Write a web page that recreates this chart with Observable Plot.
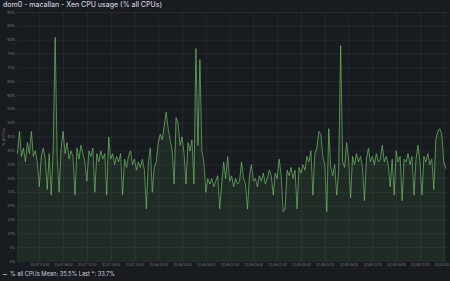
<!DOCTYPE html>
<html><head><meta charset="utf-8">
<script src="https://cdn.jsdelivr.net/npm/d3@7"></script>
<script src="https://cdn.jsdelivr.net/npm/@observablehq/plot@0.6"></script>
<style>
html,body{margin:0;padding:0;background:#181b1f;width:450px;height:281px;overflow:hidden;font-family:Inter,sans-serif;}
#title{position:absolute;left:3px;top:0;font-size:7px;line-height:10px;color:#ccccdc;white-space:nowrap;font-weight:500}
#chart{position:absolute;left:0;top:9px}
#legend{position:absolute;left:3px;top:269px;font-size:5.7px;line-height:10px;color:#ccccdc;white-space:nowrap}
#legend .sw{display:inline-block;width:4px;height:1.5px;background:#73BF69;vertical-align:middle;margin-right:3px}
</style></head>
<body>
<div id="title">dom0 - macallan - Xen CPU usage (% all CPUs)</div>
<div id="chart"></div>
<div id="legend"><span class="sw"></span>% all CPUs Mean: 35.5% Last *: 33.7%</div>
<script>
const seriesName = "% all CPUs";
const startTime = "2023-02-07T00:15:00Z";
const endTime = "2023-02-10T00:43:00Z";
const stepMinutes = 20;
const cpu = [
39,47,38,41,36,43,39,47,38,40,
36,27,38,41,37,26,39,24,40,81,
38,25,41,47,39,43,37,40,38,24,
41,37,42,39,36,29,40,38,41,25,
39,36,40,37,39,24,45,37,39,35,
38,36,39,24,37,34,38,40,35,37,
33,36,34,37,33,19,36,41,25,34,
36,43,46,44,49,54,48,44,40,28,
52,50,42,45,39,28,43,40,44,28,
77,42,73,40,36,25,30,28,30,27,
29,31,19,28,36,30,38,29,31,27,
30,28,29,36,30,28,19,31,35,29,
30,27,31,29,32,28,30,33,31,24,
32,30,37,31,18,19,33,31,34,30,
33,19,34,32,35,33,38,36,40,24,
39,41,47,46,38,35,18,48,34,31,
35,24,33,78,36,34,43,37,23,38,
35,39,36,38,34,22,37,41,36,38,
35,39,36,37,42,36,38,35,27,37,
24,40,36,38,22,37,36,39,35,38,
24,37,42,36,24,38,36,39,35,37,
26,44,47,48,46,36,33.7
];
const yTicks = [0,5,10,15,20,25,30,35,40,45,50,55,60,65,70,75,80,85,90];
const xTickLabels = [
"2023-02-07T04:00:00Z","2023-02-07T08:00:00Z","2023-02-07T12:00:00Z","2023-02-07T16:00:00Z","2023-02-07T20:00:00Z",
"2023-02-08T00:00:00Z","2023-02-08T04:00:00Z","2023-02-08T08:00:00Z","2023-02-08T12:00:00Z","2023-02-08T16:00:00Z","2023-02-08T20:00:00Z",
"2023-02-09T00:00:00Z","2023-02-09T04:00:00Z","2023-02-09T08:00:00Z","2023-02-09T12:00:00Z","2023-02-09T16:00:00Z","2023-02-09T20:00:00Z",
"2023-02-10T00:00:00Z"
];
const t0 = new Date(startTime).getTime();
const data = cpu.map((v,i)=>({t:new Date(t0 + i*stepMinutes*60000), v}));
const xTicks = xTickLabels.map(s=>new Date(s));
const fmt = d3.utcFormat("%m/%d %H:%M");
const chart = Plot.plot({
  width:450, height:260,
  marginLeft:17, marginRight:2, marginTop:3, marginBottom:8,
  style:{background:"transparent", color:"rgba(204,204,220,0.6)", fontFamily:"Inter, sans-serif"},
  x:{type:"utc", domain:[new Date(startTime), new Date(endTime)]},
  y:{domain:[0,90]},
  marks:[
    Plot.gridX(xTicks,{stroke:"#ccccdc", strokeOpacity:0.07}),
    Plot.gridY(yTicks,{stroke:"#ccccdc", strokeOpacity:0.07}),
    Plot.areaY(data,{x:"t", y:"v", fill:"#73BF69", fillOpacity:0.1}),
    Plot.lineY(data,{x:"t", y:"v", stroke:"#73BF69", strokeWidth:0.8, strokeOpacity:0.85}),
    Plot.axisX(xTicks,{tickSize:0, tickPadding:2, tickFormat:fmt, label:null, fontSize:3}),
    Plot.axisY(yTicks,{tickSize:0, tickPadding:2.5, tickFormat:d=>d+"%", label:seriesName, labelAnchor:"center", labelOffset:15, labelArrow:"none", fontSize:3.4})
  ]
});
document.getElementById("chart").appendChild(chart);
</script>
</body></html>
